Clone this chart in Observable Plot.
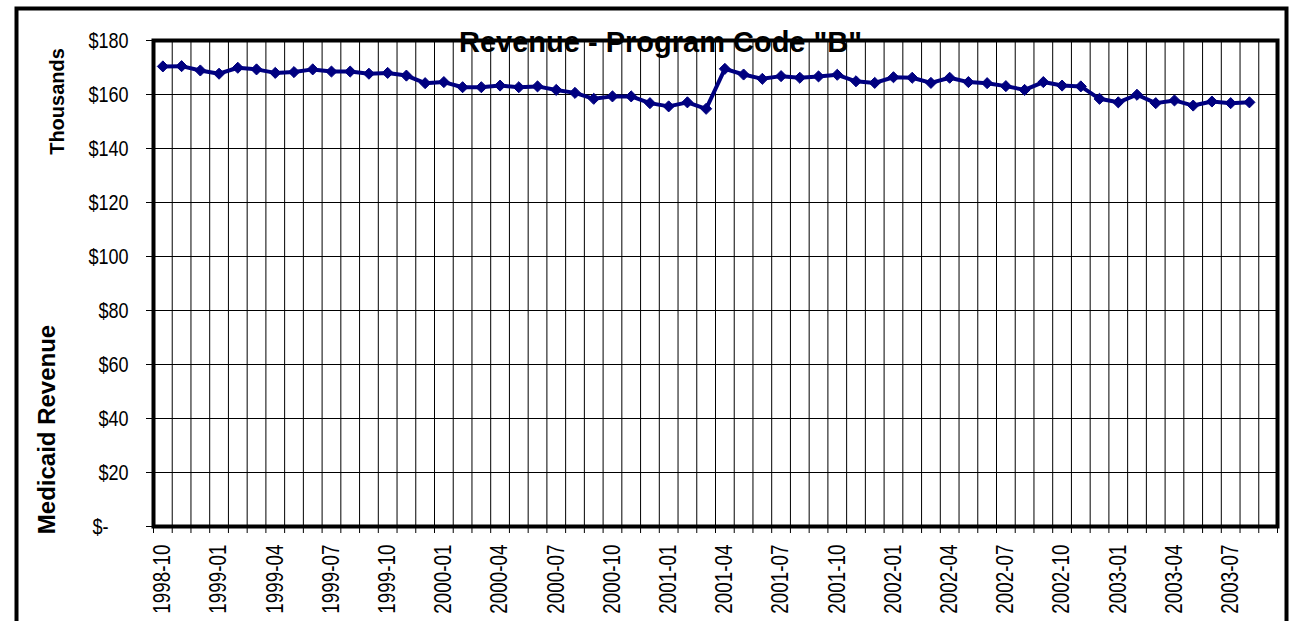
<!DOCTYPE html>
<html>
<head>
<meta charset="utf-8">
<script src="https://cdn.jsdelivr.net/npm/d3@7"></script>
<script src="https://cdn.jsdelivr.net/npm/@observablehq/plot@0.6"></script>
<style>
  html, body { margin: 0; padding: 0; background: #fff; }
  #chart svg { display: block; }
</style>
</head>
<body>
<div id="chart"></div>
<script>
const title = 'Revenue - Program Code "B"';
const yLabelTop = "Thousands";
const yLabelMain = "Medicaid Revenue";

const months = [
  "1998-10","1998-11","1998-12",
  "1999-01","1999-02","1999-03","1999-04","1999-05","1999-06","1999-07","1999-08","1999-09","1999-10","1999-11","1999-12",
  "2000-01","2000-02","2000-03","2000-04","2000-05","2000-06","2000-07","2000-08","2000-09","2000-10","2000-11","2000-12",
  "2001-01","2001-02","2001-03","2001-04","2001-05","2001-06","2001-07","2001-08","2001-09","2001-10","2001-11","2001-12",
  "2002-01","2002-02","2002-03","2002-04","2002-05","2002-06","2002-07","2002-08","2002-09","2002-10","2002-11","2002-12",
  "2003-01","2003-02","2003-03","2003-04","2003-05","2003-06","2003-07","2003-08","2003-09"
];

// Medicaid revenue, thousands of dollars (last category 2003-09 has no value)
const revenue = [
  170.4,170.5,168.9,167.7,169.9,169.3,168.0,168.3,169.3,168.5,168.5,167.7,168.0,167.0,164.2,
  164.6,162.7,162.7,163.3,162.7,163.0,161.7,160.6,158.4,159.3,159.3,156.8,155.6,157.1,154.7,
  169.5,167.4,165.8,166.8,166.2,166.7,167.3,164.9,164.3,166.4,166.2,164.3,166.2,164.6,164.2,
  163.1,161.7,164.6,163.3,163.0,158.4,157.1,159.9,156.8,157.8,155.9,157.4,156.8,157.1
];

const yTicks = [0, 20, 40, 60, 80, 100, 120, 140, 160, 180];
const labelMonths = ["1998-10","1999-01","1999-04","1999-07","1999-10","2000-01","2000-04","2000-07","2000-10",
  "2001-01","2001-04","2001-07","2001-10","2002-01","2002-04","2002-07","2002-10","2003-01","2003-04","2003-07"];

const data = revenue.map((v, i) => ({i, month: months[i], value: v}));
const boundaries = months.map((m, i) => i - 0.5).concat([months.length - 0.5]);
const labelIdx = labelMonths.map(m => months.indexOf(m));

const sans = '"Liberation Sans", Arial, sans-serif';
const navy = "#000080";

const chart = Plot.plot({
  width: 1290,
  height: 621,
  marginLeft: 153,
  marginRight: 13,
  marginTop: 40,
  marginBottom: 95,
  style: {background: "#fff", fontFamily: sans, color: "#000", overflow: "visible"},
  x: {type: "linear", domain: [-0.5, months.length - 0.5], axis: null},
  y: {domain: [0, 180], axis: null},
  marks: [
    // outer chart-area border
    Plot.frame({stroke: "#000", strokeWidth: 4, insetLeft: -137, insetTop: -32, insetRight: -9, insetBottom: -110}),
    // gridlines
    Plot.ruleY(yTicks.filter(d => d > 0), {stroke: "#000", strokeWidth: 1}),
    Plot.ruleX(boundaries, {stroke: "#000", strokeWidth: 1}),
    // y axis
    Plot.axisY({
      ticks: yTicks,
      tickFormat: d => d === 0 ? "$-\u2007\u2007" : "$" + d,
      tickSize: 7,
      tickPadding: 18,
      fontSize: 22,
      label: null,
      stroke: "#000"
    }),
    // x axis tick marks at category boundaries
    Plot.axisX({ticks: boundaries, tickFormat: () => "", tickSize: 7, label: null, stroke: "#000"}),
    // x axis labels
    Plot.axisX({
      ticks: labelIdx,
      tickFormat: i => months[i],
      tickSize: 0,
      tickPadding: 18,
      tickRotate: -90,
      fontSize: 23,
      label: null
    }),
    // series
    Plot.line(data, {x: "i", y: "value", stroke: navy, strokeWidth: 4}),
    Plot.dot(data, {x: "i", y: "value", symbol: "diamond2", r: 5, fill: navy, stroke: navy, strokeWidth: 1}),
    // plot-area frame
    Plot.frame({stroke: "#000", strokeWidth: 4}),
    // title
    Plot.text([title], {frameAnchor: "top", lineAnchor: "bottom", dy: 11, dx: -55,
      fontSize: 29, fontWeight: "bold", fill: "#000"}),
    // axis titles
    Plot.text([yLabelTop], {frameAnchor: "left", textAnchor: "middle", dx: -96, dy: -182, rotate: -90,
      fontSize: 20, fontWeight: "bold", fill: "#000"}),
    Plot.text([yLabelMain], {frameAnchor: "left", textAnchor: "middle", dx: -106, dy: 146, rotate: -90,
      fontSize: 24, fontWeight: "bold", fill: "#000"})
  ]
});
document.getElementById("chart").append(chart);

// Narrow (condensed) look of the tick labels, as in the original
chart.querySelectorAll('g[aria-label="x-axis tick label"] text, g[aria-label="y-axis tick label"] text')
  .forEach(t => {
    const w = t.getComputedTextLength();
    if (w > 0) {
      t.setAttribute("textLength", (w * 0.82).toFixed(1));
      t.setAttribute("lengthAdjust", "spacingAndGlyphs");
    }
  });
</script>
</body>
</html>
